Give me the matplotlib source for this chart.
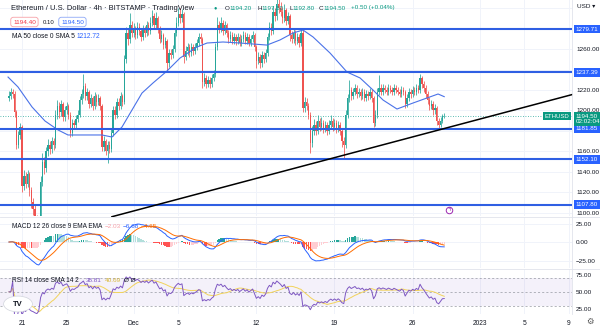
#!/usr/bin/env python3
import numpy as np
import pandas as pd
import matplotlib
matplotlib.use('Agg')
from matplotlib import pyplot as plt
from matplotlib.lines import Line2D
from matplotlib.patches import Circle

plt.rcParams['font.family'] = ['Liberation Sans', 'DejaVu Sans']

# ETH/USD 4h candles, Nov 19 20:00 .. Dec 28 20:00 (x axis = days since Nov 21)
first_open = 1212
closes = [
    1214, 1218, 1216, 1198, 1166, 1176, 1184, 1126, 1136, 1128,
    1138, 1122, 1110, 1104, 1094, 1086, 1092, 1130, 1150, 1144,
    1160, 1166, 1162, 1170, 1166, 1196, 1204, 1198, 1206, 1194,
    1200, 1204, 1196, 1178, 1188, 1186, 1192, 1196, 1210, 1216,
    1224, 1214, 1218, 1206, 1212, 1204, 1214, 1208, 1212, 1204,
    1164, 1170, 1160, 1166, 1162, 1178, 1200, 1196, 1208, 1204,
    1214, 1208, 1250, 1276, 1270, 1284, 1276, 1280, 1274, 1282,
    1278, 1272, 1280, 1276, 1284, 1278, 1286, 1292, 1284, 1290,
    1280, 1270, 1274, 1264, 1268, 1246, 1256, 1254, 1260, 1276,
    1286, 1294, 1290, 1294, 1252, 1258, 1262, 1256, 1262, 1258,
    1262, 1266, 1272, 1270, 1228, 1232, 1226, 1230, 1226, 1232,
    1236, 1262, 1284, 1280, 1286, 1278, 1284, 1276, 1270, 1274,
    1268, 1272, 1268, 1272, 1266, 1270, 1274, 1268, 1272, 1266,
    1270, 1274, 1262, 1248, 1252, 1246, 1254, 1250, 1256, 1272,
    1282, 1278, 1296, 1292, 1304, 1300, 1296, 1290, 1298, 1288,
    1292, 1274, 1270, 1276, 1268, 1272, 1266, 1276, 1202, 1208,
    1204, 1196, 1168, 1180, 1186, 1180, 1190, 1184, 1188, 1182,
    1186, 1180, 1186, 1190, 1184, 1188, 1182, 1186, 1180, 1170,
    1166, 1196, 1212, 1220, 1214, 1218, 1222, 1216, 1218, 1214,
    1218, 1212, 1216, 1214, 1218, 1212, 1188, 1196, 1218, 1222,
    1218, 1222, 1220, 1218, 1222, 1220, 1218, 1222, 1220, 1218,
    1216, 1220, 1218, 1206, 1212, 1218, 1216, 1220, 1218, 1222,
    1220, 1232, 1226, 1222, 1216, 1210, 1204, 1206, 1200, 1202,
    1190, 1186, 1190, 1194.2, 1194.5]
highs = [
    1219, 1222, 1221, 1219, 1200, 1180, 1188, 1186, 1142, 1140,
    1142, 1140, 1125, 1114, 1108, 1098, 1097, 1136, 1158, 1154,
    1164, 1172, 1170, 1174, 1173, 1200, 1210, 1208, 1210, 1208,
    1204, 1208, 1206, 1198, 1192, 1191, 1196, 1200, 1214, 1221,
    1236, 1227, 1222, 1220, 1216, 1214, 1218, 1216, 1216, 1214,
    1206, 1175, 1172, 1170, 1170, 1182, 1204, 1204, 1212, 1212,
    1218, 1216, 1254, 1282, 1280, 1295, 1288, 1286, 1283, 1287,
    1286, 1281, 1284, 1283, 1288, 1287, 1291, 1298, 1295, 1296,
    1292, 1283, 1279, 1276, 1272, 1270, 1260, 1260, 1264, 1280,
    1291, 1300, 1300, 1299, 1296, 1263, 1266, 1265, 1266, 1265,
    1266, 1270, 1276, 1276, 1272, 1237, 1235, 1234, 1233, 1236,
    1240, 1266, 1291, 1288, 1291, 1289, 1288, 1286, 1279, 1278,
    1277, 1276, 1275, 1276, 1275, 1274, 1278, 1277, 1276, 1275,
    1274, 1278, 1276, 1264, 1257, 1255, 1258, 1257, 1260, 1276,
    1287, 1286, 1302, 1300, 1312, 1310, 1306, 1300, 1304, 1300,
    1296, 1294, 1278, 1280, 1279, 1276, 1275, 1280, 1279, 1213,
    1212, 1207, 1198, 1185, 1192, 1190, 1196, 1193, 1194, 1191,
    1190, 1189, 1191, 1196, 1193, 1192, 1191, 1190, 1189, 1183,
    1174, 1200, 1216, 1230, 1223, 1222, 1226, 1225, 1222, 1221,
    1222, 1221, 1220, 1219, 1222, 1221, 1214, 1200, 1222, 1235,
    1226, 1226, 1225, 1223, 1226, 1225, 1223, 1226, 1225, 1223,
    1221, 1224, 1223, 1220, 1216, 1222, 1221, 1224, 1223, 1226,
    1225, 1236, 1234, 1229, 1225, 1219, 1213, 1210, 1209, 1206,
    1204, 1193, 1194, 1197, 1197.5]
lows = [
    1209, 1211, 1212, 1194, 1162, 1163, 1172, 1120, 1122, 1124,
    1125, 1116, 1105, 1098, 1086, 1074, 1078, 1088, 1126, 1138,
    1140, 1155, 1157, 1158, 1161, 1163, 1192, 1193, 1195, 1190,
    1190, 1197, 1192, 1174, 1175, 1182, 1183, 1189, 1194, 1206,
    1212, 1210, 1210, 1202, 1203, 1200, 1201, 1204, 1205, 1200,
    1160, 1160, 1156, 1149, 1158, 1159, 1175, 1192, 1193, 1200,
    1201, 1204, 1206, 1246, 1264, 1266, 1272, 1272, 1270, 1271,
    1274, 1268, 1269, 1272, 1273, 1274, 1275, 1283, 1280, 1281,
    1276, 1266, 1267, 1260, 1261, 1240, 1243, 1250, 1251, 1257,
    1273, 1283, 1286, 1287, 1246, 1249, 1254, 1252, 1253, 1254,
    1255, 1259, 1263, 1266, 1222, 1224, 1222, 1223, 1222, 1223,
    1229, 1233, 1259, 1276, 1277, 1274, 1275, 1272, 1266, 1267,
    1265, 1265, 1264, 1265, 1263, 1263, 1267, 1265, 1265, 1263,
    1263, 1267, 1258, 1242, 1245, 1242, 1243, 1246, 1247, 1253,
    1269, 1274, 1275, 1288, 1289, 1295, 1292, 1286, 1287, 1284,
    1285, 1268, 1266, 1266, 1264, 1265, 1262, 1263, 1198, 1198,
    1200, 1192, 1158, 1164, 1176, 1176, 1177, 1180, 1181, 1178,
    1179, 1176, 1177, 1183, 1180, 1181, 1178, 1179, 1176, 1164,
    1152, 1163, 1193, 1208, 1210, 1211, 1215, 1212, 1213, 1210,
    1211, 1209, 1209, 1210, 1211, 1208, 1184, 1185, 1193, 1215,
    1215, 1215, 1217, 1215, 1215, 1217, 1215, 1215, 1217, 1215,
    1213, 1213, 1215, 1202, 1203, 1209, 1212, 1213, 1215, 1215,
    1217, 1217, 1222, 1218, 1212, 1206, 1200, 1201, 1196, 1197,
    1186, 1183, 1184, 1188, 1192.8]

# MA 50
ma_days = [-1.25, -0.36, 0.90, 2.06, 3.23, 4.12, 5.91, 7.17, 8.06, 8.96,
           9.86, 10.75, 11.74, 12.99, 14.16, 15.68, 16.58, 18.01, 19.53, 21.95,
           23.12, 24.28, 25.18, 26.08, 27.60, 29.12, 30.29, 31.45, 32.35, 33.60,
           35.04, 37.28, 37.83]
ma_vals = [1232.7, 1223, 1203.4, 1189.7, 1180.9, 1176, 1176, 1176, 1174, 1183.8,
           1200.5, 1217, 1226.9, 1238.6, 1251.3, 1262.1, 1266, 1267, 1266, 1264,
           1269, 1275.8, 1278.7, 1271.9, 1256.2, 1237.6, 1231.8, 1220, 1210.2, 1201.4,
           1207.3, 1216.1, 1213.5]

levels = [1279.71, 1237.39, 1181.85, 1152.10, 1107.80]
trend_days = [8.06, 49.28]
trend_vals = [1096, 1215.5]

date_ticks = [0, 4, 10, 14, 21, 28, 35, 41, 45, 49]
date_labels = ['21', '25', 'Dec', '5', '12', '19', '26', '2023', '5', '9']

UP, DOWN = '#26a69a', '#ef5350'
TXT = '#131722'
BLUE = '#2962ff'
GRID = '#f0f3fa'
G = '#089981'

n = len(closes)
t = -7 / 6 + np.arange(n) / 6
c = np.array(closes, dtype=float)
o = np.array([first_open] + closes[:-1], dtype=float)
col = [UP if cc >= oo else DOWN for oo, cc in zip(o, c)]

# indicators
s = pd.Series(c)
macd = s.ewm(span=12, adjust=False).mean() - s.ewm(span=26, adjust=False).mean()
sig = macd.ewm(span=9, adjust=False).mean()
hist = macd - sig
d = s.diff().fillna(0)
up = d.clip(lower=0).ewm(alpha=1 / 14, adjust=False).mean()
dn = (-d.clip(upper=0)).ewm(alpha=1 / 14, adjust=False).mean()
rsi = 100 - 100 / (1 + up / dn.replace(0, np.nan))
rsi = rsi.fillna(50)
rsi_ma = rsi.rolling(14, min_periods=1).mean()

W, H = 600, 330
fig = plt.figure(figsize=(6, 3.3), dpi=100)
fig.patch.set_facecolor('white')


def box(x0, y0, x1, y1):
    return [x0 / W, 1 - y1 / H, (x1 - x0) / W, (y1 - y0) / H]


def ftext(x, y, s, **kw):
    kw.setdefault('va', 'center')
    return fig.text(x / W, 1 - y / H, s, **kw)


ax = fig.add_axes(box(0, 0, 572, 216))
ax2 = fig.add_axes(box(0, 217, 572, 268), sharex=ax)
ax3 = fig.add_axes(box(0, 269, 572, 314), sharex=ax)

for a in (ax, ax2, ax3):
    for sp in a.spines.values():
        sp.set_visible(False)
    a.set_facecolor('white')
    a.tick_params(length=0, labelsize=4.6, labelcolor=TXT, pad=3)
    a.yaxis.tick_right()
    for dt in date_ticks:
        a.axvline(dt, color=GRID, lw=0.7, zorder=0)
ax.set_xlim(-1.97, 49.28)
ax.tick_params(labelbottom=False)
ax2.tick_params(labelbottom=False)

# main pane
ax.set_ylim(1096.7, 1308.1)
yt = list(range(1100, 1301, 20))
ax.set_yticks(yt)
shown = {1100, 1120, 1140, 1160, 1200, 1220, 1260}
ax.set_yticklabels(['%.2f' % v if v in shown else '' for v in yt])
for v in yt:
    ax.axhline(v, color=GRID, lw=0.7, zorder=0)

ax.vlines(t, lows, highs, colors=col, linewidth=0.55, zorder=3)
body = c - o
body = np.where(np.abs(body) < 0.8, np.sign(body + 1e-9) * 0.8, body)
ax.bar(t, body, bottom=o, width=0.12, color=col, linewidth=0, zorder=3)
ax.plot(ma_days, ma_vals, color='#4a72e8', lw=0.8, zorder=4)
for lv in levels:
    ax.axhline(lv, color='#2f5fe3', lw=1.5, zorder=5)
ax.plot(trend_days, trend_vals, color='black', lw=1.1, zorder=6, clip_on=False)
ax.axhline(c[-1], color=UP, lw=0.6, ls=(0, (1, 2)), zorder=2)

ytr = ax.get_yaxis_transform()
for lv in levels:
    ax.text(1.006, lv, '%.2f' % lv, transform=ytr, ha='left', va='center',
            fontsize=4.5, color='white', clip_on=False, zorder=10,
            bbox=dict(boxstyle='square,pad=0.3', fc=BLUE, ec='none'))
ax.text(1.006, c[-1] - 3, '%.2f\n02:02:04' % c[-1], transform=ytr, ha='left',
        va='center', fontsize=4.5, color='white', linespacing=1.0, clip_on=False,
        zorder=10, bbox=dict(boxstyle='square,pad=0.3', fc=G, ec='none'))
ax.text(0.995, c[-1], 'ETHUSD', transform=ytr, ha='right', va='center',
        fontsize=4.3, color='white', zorder=10,
        bbox=dict(boxstyle='square,pad=0.3', fc=G, ec='none'))
ftext(577, 6, 'USD ▾', fontsize=4.6, color=TXT)

# event marker
ax.scatter([38.26], [1102.6], s=22, marker='o', facecolor='white',
           edgecolor='#9c27b0', linewidth=0.7, zorder=7)
ax.text(38.26, 1102.6, 'ϟ', color='#9c27b0', fontsize=4, ha='center',
        va='center', zorder=8, family=['DejaVu Sans'])

# legend rows
ftext(11, 8, 'Ethereum / U.S. Dollar · 4h · BITSTAMP · TradingView',
      fontsize=5.4, color=TXT)
ftext(215, 8, '●', color=G, fontsize=4, ha='center')
for x, s_, cc in [(225, 'O', TXT), (229.5, '1194.20', G), (257, 'H', TXT),
                  (261, '1197.50', G), (289, 'L', TXT), (292, '1192.80', G),
                  (319, 'C', TXT), (323.5, '1194.50', G),
                  (351, '+0.50 (+0.04%)', G)]:
    ftext(x, 8, s_, fontsize=4.5, color=cc)
ftext(13, 22, '1194.40', fontsize=4.6, color='#f23645',
      bbox=dict(boxstyle='round,pad=0.35,rounding_size=0.4', fc='white',
                ec='#f7a1a8', lw=0.6))
ftext(43, 22, '0.10', fontsize=4.3, color=TXT)
ftext(61, 22, '1194.50', fontsize=4.6, color=BLUE,
      bbox=dict(boxstyle='round,pad=0.35,rounding_size=0.4', fc='white',
                ec='#8fa9f7', lw=0.6))
ftext(12, 36, 'MA 50 close 0 SMA 5', fontsize=4.8, color=TXT)
ftext(77, 36, '1212.72', fontsize=4.8, color=BLUE)

# MACD pane
ax2.set_ylim(-35.1, 33.8)
ax2.set_yticks([25, 0, -25])
ax2.set_yticklabels(['25.00', '0.00', '\u221225.00'])
for v in (25, 0, -25):
    ax2.axhline(v, color=GRID, lw=0.7, zorder=0)
hv = hist.values
hcol = []
for i, h in enumerate(hv):
    prev = hv[i - 1] if i else 0
    if h >= 0:
        hcol.append('#26a69a' if h >= prev else '#b2dfdb')
    else:
        hcol.append('#ff5252' if h < prev else '#ffcdd2')
ax2.bar(t, hv, width=0.13, color=hcol, linewidth=0, zorder=2)
ax2.plot(t, macd, color=BLUE, lw=0.7, zorder=3)
ax2.plot(t, sig, color='#ff6d00', lw=0.7, zorder=3)
ftext(12, 226, 'MACD 12 26 close 9 EMA EMA', fontsize=4.7, color=TXT)
ftext(105, 226, '\u22122.03', fontsize=4.6, color='#f7a1a8')
ftext(123, 226, '\u22126.68', fontsize=4.6, color=BLUE)
ftext(141, 226, '\u22124.65', fontsize=4.6, color='#ff6d00')

# RSI pane
ax3.set_ylim(17.8, 83)
ax3.set_yticks([75, 50, 25])
ax3.set_yticklabels(['75.00', '50.00', '25.00'])
ax3.axhspan(30, 70, color='#7e57c2', alpha=0.08, lw=0, zorder=0)
for v in (70, 50, 30):
    ax3.axhline(v, color='#9598a1', lw=0.5, ls=(0, (3, 3)), zorder=1)
ax3.plot(t, rsi, color='#7e57c2', lw=0.7, zorder=3)
ax3.plot(t, rsi_ma, color='#f2d35b', lw=0.7, zorder=2)
ax3.set_xticks(date_ticks)
ax3.set_xticklabels(date_labels)
ax3.tick_params(axis='x', pad=4, labelsize=4.8)
ftext(12, 280, 'RSI 14 close SMA 14 2', fontsize=4.7, color=TXT)
ftext(86, 280, '38.81', fontsize=4.6, color='#7e57c2')
ftext(105, 280, '40.69', fontsize=4.6, color='#d9b93a')
ftext(124, 280, 'Ø Ø', fontsize=4.6, color=TXT)

# pane separators and axis border
for yy in (216.5, 268.5):
    fig.add_artist(Line2D([0, 1], [1 - yy / H] * 2, color='#e0e3eb', lw=0.6))
fig.add_artist(Line2D([572 / W] * 2, [1 - 314 / H, 1], color='#e0e3eb', lw=0.6))

# TradingView logo and settings gear
fig.add_artist(Circle((18 / W, 1 - 304 / H), 0.024, transform=fig.transFigure,
                      fc='white', ec='#d1d4dc', lw=0.5))
ftext(18, 304, 'TV', fontsize=5.5, weight='bold', color=TXT, ha='center')
ftext(590, 321, '⚙', fontsize=6, color='#555', ha='center',
      family=['DejaVu Sans'])

fig.savefig('out.png', dpi=100, facecolor='white')
